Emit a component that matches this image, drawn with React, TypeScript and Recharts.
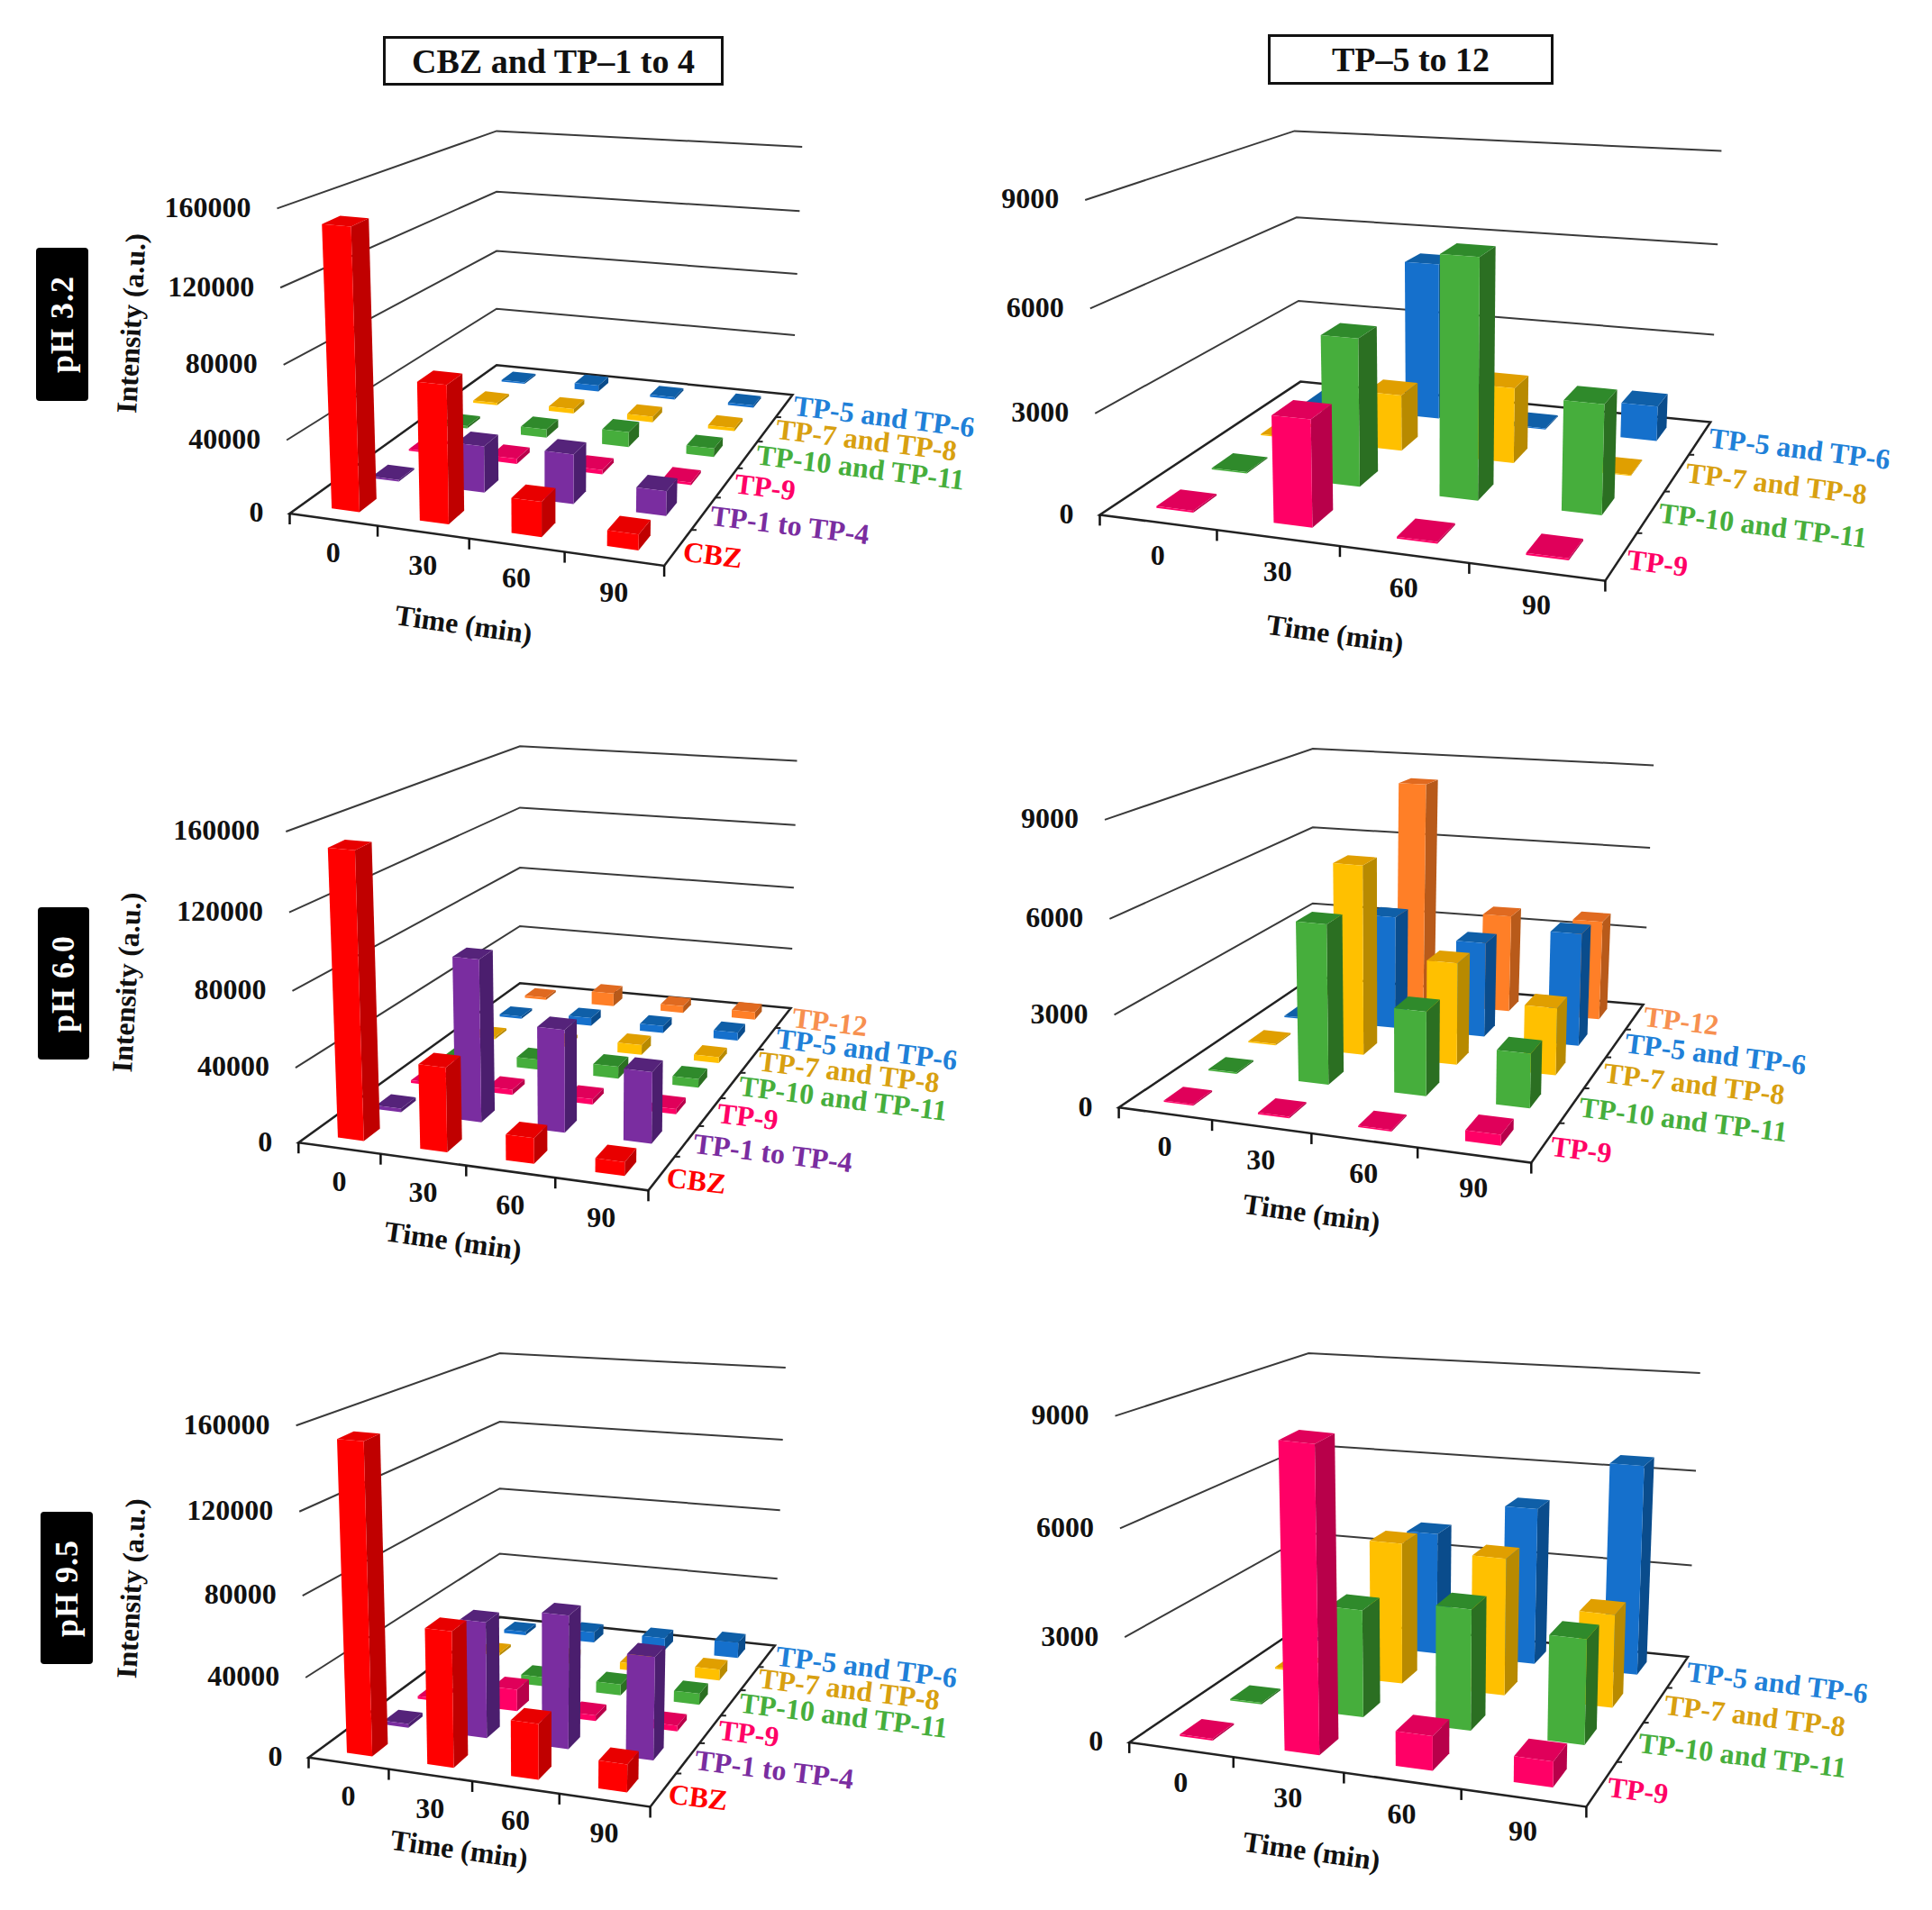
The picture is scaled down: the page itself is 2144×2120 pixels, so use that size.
import React from 'react';
import { BarChart, Bar, XAxis, YAxis, Customized } from 'recharts';

// x axis categories and y axis ticks
const TIMES = ['0', '30', '60', '90'];
const TICKS_LEFT = [0, 40000, 80000, 120000, 160000];
const TICKS_RIGHT = [0, 3000, 6000, 9000];

// pH 3.2, CBZ and TP-1 to 4
const PH32_CBZ = [150400, 74100, 18800, 8400];
const PH32_TP1_4 = [1000, 26000, 27500, 13600];
const PH32_TP9 = [1000, 3000, 2500, 1500];
const PH32_TP10_11 = [1500, 5000, 9000, 5000];
const PH32_TP7_8 = [1500, 3000, 3500, 2000];
const PH32_TP5_6 = [1000, 4000, 1500, 1500];

// pH 3.2, TP-5 to 12
const PH32B_TP9 = [50, 3140, 50, 60];
const PH32B_TP10_11 = [40, 4500, 7150, 3270];
const PH32B_TP7_8 = [40, 1800, 2380, 30];
const PH32B_TP5_6 = [60, 5230, 40, 1150];

// pH 6.0, CBZ and TP-1 to 4
const PH60_CBZ = [150400, 44800, 13600, 7300];
const PH60_TP1_4 = [2000, 88000, 55500, 38500];
const PH60_TP9 = [1500, 3000, 3000, 3000];
const PH60_TP10_11 = [1500, 6000, 7000, 5000];
const PH60_TP7_8 = [1500, 2000, 6000, 3500];
const PH60_TP5_6 = [1500, 5000, 4500, 5000];
const PH60_TP12 = [1500, 8500, 4500, 5000];

// pH 6.0, TP-5 to 12
const PH60B_TP9 = [50, 50, 50, 350];
const PH60B_TP10_11 = [50, 5300, 2800, 1800];
const PH60B_TP7_8 = [50, 6500, 3500, 2300];
const PH60B_TP5_6 = [50, 4030, 3380, 3980];
const PH60B_TP12 = [50, 8200, 3600, 3650];

// pH 9.5, CBZ and TP-1 to 4
const PH95_CBZ = [152400, 67000, 27500, 13600];
const PH95_TP1_4 = [2000, 59000, 67000, 51500];
const PH95_TP9 = [1500, 11500, 3000, 3000];
const PH95_TP10_11 = [1500, 5000, 6000, 6000];
const PH95_TP7_8 = [1500, 3000, 4000, 6000];
const PH95_TP5_6 = [2000, 6000, 7000, 9000];

// pH 9.5, TP-5 to 12
const PH95B_TP9 = [50, 8580, 990, 730];
const PH95B_TP10_11 = [50, 3180, 3560, 3080];
const PH95B_TP7_8 = [50, 4330, 4180, 2830];
const PH95B_TP5_6 = [50, 3900, 4950, 6520];

// front, side and top colours of each series, plus its label colour
const STYLES: any = {
  CBZ: { name: 'CBZ', front: '#FF0000', side: '#C00000', top: '#E80000', label: '#FF0000' },
  TP1: { name: 'TP-1 to TP-4', front: '#7A2DA0', side: '#4B1E6E', top: '#55237A', label: '#7A2DA0' },
  TP9: { name: 'TP-9', front: '#FF0066', side: '#B8004A', top: '#E0005A', label: '#FF0066' },
  TP10: { name: 'TP-10 and TP-11', front: '#46AE3C', side: '#2B6F22', top: '#2F8A2B', label: '#46AE3C' },
  TP7: { name: 'TP-7 and TP-8', front: '#FFC000', side: '#B88A00', top: '#E09F00', label: '#D8A010' },
  TP5: { name: 'TP-5 and TP-6', front: '#1570CC', side: '#0A4C8C', top: '#0F5FA8', label: '#2080D8' },
  TP12: { name: 'TP-12', front: '#FF7F27', side: '#B85A1A', top: '#E06A20', label: '#F79050' },
};

const CHART_H = 640;
// axes drop their ticks at zero size, so they keep one pixel
const AXIS_PX = 1;
const PLOT_H = CHART_H - AXIS_PX;
const SERIF = '"Liberation Serif", serif';

type Pt = [number, number];

// maps the unit square onto a quad, so depth is foreshortened like the original
const quadMap = (p0: Pt, p1: Pt, p2: Pt, p3: Pt) => {
  const dx1 = p1[0] - p2[0];
  const dx2 = p3[0] - p2[0];
  const sx = p0[0] - p1[0] + p2[0] - p3[0];
  const dy1 = p1[1] - p2[1];
  const dy2 = p3[1] - p2[1];
  const sy = p0[1] - p1[1] + p2[1] - p3[1];
  const det = dx1 * dy2 - dx2 * dy1;
  const g = (sx * dy2 - dx2 * sy) / det;
  const h = (dx1 * sy - sx * dy1) / det;
  const a = p1[0] - p0[0] + g * p1[0];
  const b = p3[0] - p0[0] + h * p3[0];
  const d = p1[1] - p0[1] + g * p1[1];
  const e = p3[1] - p0[1] + h * p3[1];
  return (u: number, v: number): Pt => {
    const q = g * u + h * v + 1;
    return [(a * u + b * v + p0[0]) / q, (d * u + e * v + p0[1]) / q];
  };
};

const pts = (list: Pt[]) => list.map((p) => `${p[0]},${p[1]}`).join(' ');

const Panel = ({ cfg }: any) => {
  const { left, top, width, rows, ticks, max, floor, roof, timeTitle, yTitle } = cfg;
  const plotW = width - AXIS_PX;
  const floorAt = quadMap(floor[0], floor[1], floor[2], floor[3]);
  // how far each floor corner moves to reach the top of the value axis
  const lift = (k: number, u: number, v: number) => {
    const front = (roof[0][k] - floor[0][k]) * (1 - u) + (roof[1][k] - floor[1][k]) * u;
    const back = (roof[3][k] - floor[3][k]) * (1 - u) + (roof[2][k] - floor[2][k]) * u;
    return front * (1 - v) + back * v;
  };
  // u along time, v into depth, w up the value axis; local pixels of this chart
  const project = (u: number, v: number, w: number): Pt => {
    const a = floorAt(u, v);
    // the value axis is a little compressed near the floor in the 3D view
    const h = w * (0.95 + 0.05 * w);
    return [a[0] + lift(0, u, v) * h - left, a[1] + lift(1, u, v) * h - top];
  };

  const table = TIMES.map((t, i) => {
    const row: any = { time: t };
    rows.forEach((r: any) => { row[r.key] = r.values[i]; });
    return row;
  });

  const barSize = plotW * 0.08;
  const halfDepth = 0.21 / rows.length;

  const drawBar = (props: any, rowIndex: number, style: any) => {
    const { x, width: bw, height } = props;
    const u = (x - AXIS_PX + bw / 2) / plotW;
    const du = bw / plotW / 2;
    const v = (rowIndex + 0.5) / rows.length;
    const w = height / PLOT_H;
    const a0 = project(u - du, v - halfDepth, 0);
    const b0 = project(u + du, v - halfDepth, 0);
    const c0 = project(u + du, v + halfDepth, 0);
    const at = project(u - du, v - halfDepth, w);
    const bt = project(u + du, v - halfDepth, w);
    const ct = project(u + du, v + halfDepth, w);
    const dt = project(u - du, v + halfDepth, w);
    return (
      <g>
        <polygon points={pts([b0, c0, ct, bt])} fill={style.side} />
        <polygon points={pts([at, bt, ct, dt])} fill={style.top} />
        <polygon points={pts([a0, b0, bt, at])} fill={style.front} />
      </g>
    );
  };

  const renderYTick = (props: any) => {
    const w = (PLOT_H - props.y) / PLOT_H;
    const a = project(0, 0, w);
    return (
      <text x={a[0] - 29} y={a[1] + 2} textAnchor="end" dominantBaseline="middle"
        fontFamily={SERIF} fontWeight="bold" fontSize={32} fill="#111">
        {props.payload.value}
      </text>
    );
  };

  const renderXTick = (props: any) => {
    const u = (props.x - AXIS_PX) / plotW;
    const a = project(u, 0, 0);
    const end = project(u + 0.125, 0, 0);
    return (
      <g>
        <text x={a[0]} y={a[1] + 40} textAnchor="middle" dominantBaseline="middle"
          fontFamily={SERIF} fontWeight="bold" fontSize={32} fill="#111">
          {props.payload.value}
        </text>
        <line x1={end[0]} y1={end[1]} x2={end[0]} y2={end[1] + 12} stroke="#111" strokeWidth={2.5} />
      </g>
    );
  };

  // walls and floor sit under the bars; the axis layer would draw over them
  const Frame = () => {
    const fl = project(0, 0, 0);
    const fr = project(1, 0, 0);
    const br = project(1, 1, 0);
    const bl = project(0, 1, 0);
    return (
      <g>
        {ticks.filter((t: number) => t > 0).map((t: number) => (
          <polyline key={t} points={pts([project(0, 0, t / max), project(0, 1, t / max), project(1, 1, t / max)])}
            fill="none" stroke="#3a3a3a" strokeWidth={2} />
        ))}
        <polygon points={pts([fl, fr, br, bl])} fill="#fff" stroke="#222" strokeWidth={2.5} />
        <line x1={fl[0]} y1={fl[1]} x2={fl[0]} y2={fl[1] + 12} stroke="#111" strokeWidth={2.5} />
        {rows.slice(1).map((r: any, i: number) => {
          const p = project(1, (i + 1) / rows.length, 0);
          return <line key={r.key} x1={p[0]} y1={p[1]} x2={p[0] + 6} y2={p[1]} stroke="#222" strokeWidth={2} />;
        })}
        <text x={timeTitle[0] - left} y={timeTitle[1] - top} textAnchor="middle" dominantBaseline="middle"
          transform={`rotate(8 ${timeTitle[0] - left} ${timeTitle[1] - top})`}
          fontFamily={SERIF} fontWeight="bold" fontSize={32} fill="#111">
          Time (min)
        </text>
        {yTitle && (
          <text x={yTitle[0] - left} y={yTitle[1] - top} textAnchor="middle" dominantBaseline="middle"
            transform={`rotate(-87 ${yTitle[0] - left} ${yTitle[1] - top})`}
            fontFamily={SERIF} fontWeight="bold" fontSize={32} fill="#111">
            Intensity (a.u.)
          </text>
        )}
        {rows.map((r: any, i: number) => {
          const v = (i + 0.5) / rows.length;
          const p = project(1, v, 0);
          const s = STYLES[r.key];
          // front labels sit a bit lower and closer to the edge
          const near = (1 - v) ** 3;
          const tx = p[0] + 10 - 6 * near;
          const ty = p[1] + 3 + 6 * near;
          return (
            <text key={r.key} x={tx} y={ty} dominantBaseline="middle"
              transform={`rotate(7 ${tx} ${ty})`}
              fontFamily={SERIF} fontWeight="bold" fontSize={32} fill={s.label}>
              {s.name}
            </text>
          );
        })}
      </g>
    );
  };

  // back rows come first so that the nearer bars cover them
  const order = rows.map((r: any, i: number) => ({ r, i })).reverse();

  return (
    <div style={{ position: 'absolute', left, top, width, height: CHART_H }}>
      <BarChart width={width} height={CHART_H} data={table} margin={{ top: 0, right: 0, bottom: 0, left: 0 }}
        barSize={barSize} barGap={-barSize} barCategoryGap={0}>
        <Customized component={Frame} />
        <XAxis dataKey="time" height={AXIS_PX} axisLine={false} tickLine={false} interval={0} tick={renderXTick} />
        <YAxis width={AXIS_PX} domain={[0, max]} ticks={ticks} axisLine={false} tickLine={false} interval={0} tick={renderYTick} />
        {order.map(({ r, i }: any) => (
          <Bar key={r.key} dataKey={r.key} isAnimationActive={false}
            shape={(props: any) => drawBar(props, i, STYLES[r.key])} />
        ))}
      </BarChart>
    </div>
  );
};

const PANELS = [
  {
    id: 'ph32a', left: 110, top: 110, width: 1000, ticks: TICKS_LEFT, max: 160000,
    floor: [[321.5, 570], [737.1, 628], [879.5, 438.2], [551.1, 405.2]],
    roof: [[307.5, 231.4], [743.5, 268.7], [890.2, 162.9], [551.1, 145.4]],
    timeTitle: [514, 696.5], yTitle: [149, 359],
    rows: [
      { key: 'CBZ', values: PH32_CBZ }, { key: 'TP1', values: PH32_TP1_4 }, { key: 'TP9', values: PH32_TP9 },
      { key: 'TP10', values: PH32_TP10_11 }, { key: 'TP7', values: PH32_TP7_8 }, { key: 'TP5', values: PH32_TP5_6 },
    ],
  },
  {
    id: 'ph32b', left: 1110, top: 110, width: 1034, ticks: TICKS_RIGHT, max: 9000,
    floor: [[1220.5, 571.4], [1781.4, 644.6], [1898.2, 468.5], [1443.2, 423.6]],
    roof: [[1204.2, 222], [1790.6, 266.8], [1910.4, 167.6], [1436.5, 145.4]],
    timeTitle: [1481, 707],
    rows: [
      { key: 'TP9', values: PH32B_TP9 }, { key: 'TP10', values: PH32B_TP10_11 },
      { key: 'TP7', values: PH32B_TP7_8 }, { key: 'TP5', values: PH32B_TP5_6 },
    ],
  },
  {
    id: 'ph60a', left: 110, top: 800, width: 1000, ticks: TICKS_LEFT, max: 160000,
    floor: [[331.3, 1268.2], [719.5, 1321.3], [877.5, 1119], [577, 1091.3]],
    roof: [[317.3, 923], [723.6, 960.6], [884.5, 844.5], [577, 828.2]],
    timeTitle: [502.3, 1380.5], yTitle: [144, 1090.5],
    rows: [
      { key: 'CBZ', values: PH60_CBZ }, { key: 'TP1', values: PH60_TP1_4 }, { key: 'TP9', values: PH60_TP9 },
      { key: 'TP10', values: PH60_TP10_11 }, { key: 'TP7', values: PH60_TP7_8 }, { key: 'TP5', values: PH60_TP5_6 },
      { key: 'TP12', values: PH60_TP12 },
    ],
  },
  {
    id: 'ph60b', left: 1110, top: 800, width: 1034, ticks: TICKS_RIGHT, max: 9000,
    floor: [[1241.6, 1229.3], [1699.3, 1290.6], [1823.5, 1115], [1456.8, 1084.3]],
    roof: [[1226, 909.9], [1705.2, 955.7], [1835.1, 849.4], [1456.8, 831]],
    timeTitle: [1455, 1349.9],
    rows: [
      { key: 'TP9', values: PH60B_TP9 }, { key: 'TP10', values: PH60B_TP10_11 }, { key: 'TP7', values: PH60B_TP7_8 },
      { key: 'TP5', values: PH60B_TP5_6 }, { key: 'TP12', values: PH60B_TP12 },
    ],
  },
  {
    id: 'ph95a', left: 110, top: 1470, width: 1000, ticks: TICKS_LEFT, max: 160000,
    floor: [[342.5, 1950.7], [721.6, 2005.5], [859.9, 1826.5], [554.6, 1794.9]],
    roof: [[328.6, 1582.2], [727.6, 1617.8], [871.8, 1518.1], [554.6, 1502.1]],
    timeTitle: [509.2, 2056], yTitle: [149, 1763.3],
    rows: [
      { key: 'CBZ', values: PH95_CBZ }, { key: 'TP1', values: PH95_TP1_4 }, { key: 'TP9', values: PH95_TP9 },
      { key: 'TP10', values: PH95_TP10_11 }, { key: 'TP7', values: PH95_TP7_8 }, { key: 'TP5', values: PH95_TP5_6 },
    ],
  },
  {
    id: 'ph95b', left: 1110, top: 1470, width: 1034, ticks: TICKS_RIGHT, max: 9000,
    floor: [[1253.2, 1933.9], [1760.4, 2005.5], [1873.1, 1839.1], [1456, 1797]],
    roof: [[1237.5, 1571.6], [1767.7, 1629.8], [1886.7, 1524], [1452.2, 1502.1]],
    timeTitle: [1455, 2058],
    rows: [
      { key: 'TP9', values: PH95B_TP9 }, { key: 'TP10', values: PH95B_TP10_11 },
      { key: 'TP7', values: PH95B_TP7_8 }, { key: 'TP5', values: PH95B_TP5_6 },
    ],
  },
];

const HEADERS = [
  { text: 'CBZ and TP–1 to 4', left: 425, top: 40, width: 378, height: 55 },
  { text: 'TP–5 to 12', left: 1407, top: 38, width: 317, height: 56 },
];

const PH_TAGS = [
  { text: 'pH 3.2', left: 40, top: 275, width: 58, height: 170 },
  { text: 'pH 6.0', left: 42, top: 1007, width: 57, height: 169 },
  { text: 'pH 9.5', left: 45, top: 1678, width: 58, height: 169 },
];

export default function App() {
  return (
    <div style={{ position: 'absolute', left: 0, top: 0, width: 2144, height: 2120, background: '#fff', overflow: 'hidden', fontFamily: SERIF }}>
      {HEADERS.map((h) => (
        <div key={h.text} style={{
          position: 'absolute', left: h.left, top: h.top, width: h.width, height: h.height, boxSizing: 'border-box',
          border: '3px solid #111', display: 'flex', alignItems: 'center', justifyContent: 'center',
          fontWeight: 'bold', fontSize: 38, color: '#111',
        }}>
          {h.text}
        </div>
      ))}
      {PH_TAGS.map((t) => (
        <div key={t.text} style={{
          position: 'absolute', left: t.left, top: t.top, width: t.width, height: t.height, background: '#000',
          borderRadius: 4, display: 'flex', alignItems: 'center', justifyContent: 'center',
        }}>
          <span style={{ transform: 'rotate(-90deg)', whiteSpace: 'nowrap', color: '#fff', fontWeight: 'bold', fontSize: 36, letterSpacing: 1 }}>
            {t.text}
          </span>
        </div>
      ))}
      {PANELS.map((p) => <Panel key={p.id} cfg={p} />)}
    </div>
  );
}
